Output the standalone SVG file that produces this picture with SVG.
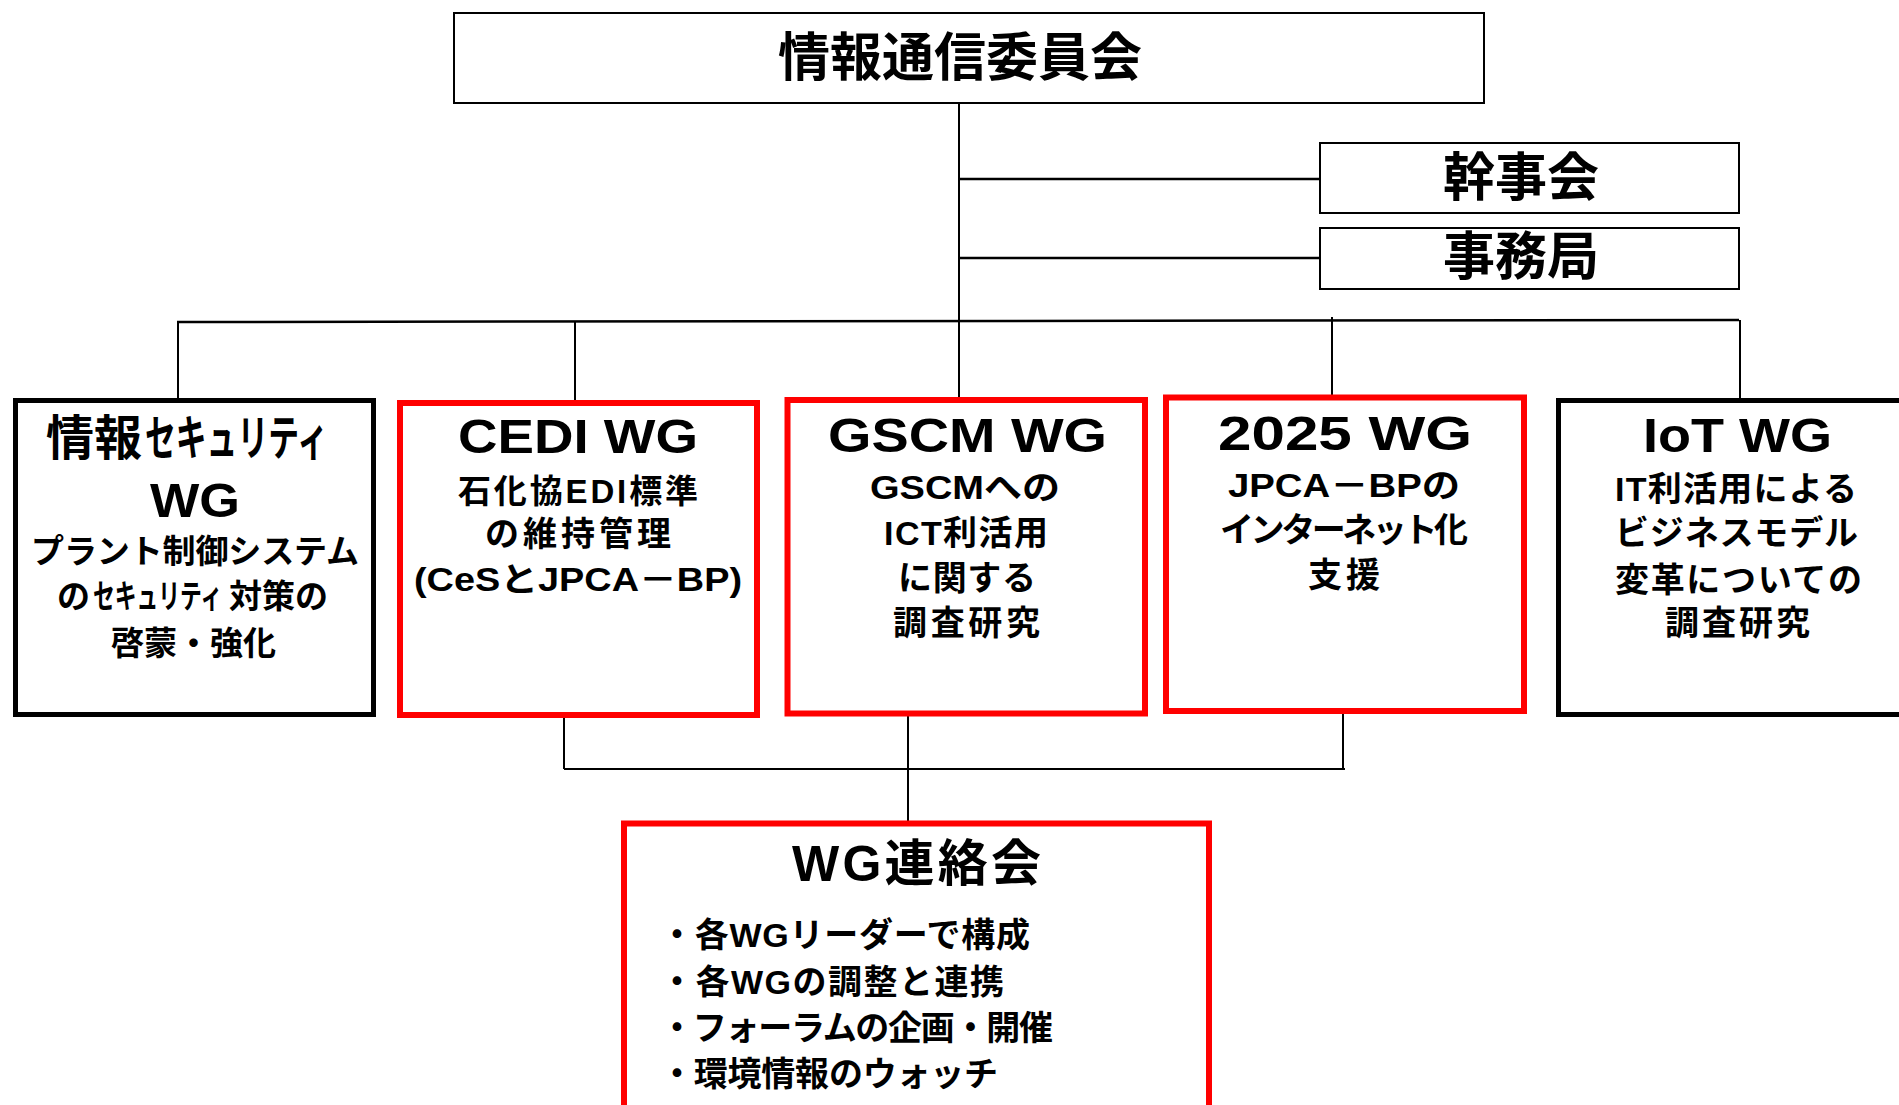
<svg xmlns="http://www.w3.org/2000/svg" width="1899" height="1105" viewBox="0 0 1899 1105">
<style>
.bg{fill:#fff}
.box{fill:#fff;stroke:#000;stroke-width:2}
.wgk{fill:#fff;stroke:#000;stroke-width:5}
.wgr{fill:#fff;stroke:#ff0000;stroke-width:6}
.ln{stroke:#000;stroke-width:2;fill:none}
.t{font-family:"Liberation Sans","Noto Sans CJK JP",sans-serif;font-weight:bold;fill:#000}
.h{font-size:49px}
.s{font-size:34px}
.m{font-size:33px}
</style>
<rect class="bg" x="0" y="0" width="1899" height="1105"/>
<g id="connectors">
<line class="ln" x1="959" y1="103" x2="959" y2="398"/>
<line class="ln" x1="959" y1="179" x2="1320" y2="179" style="stroke-width:2.5"/>
<line class="ln" x1="959" y1="258" x2="1320" y2="258" style="stroke-width:2.5"/>
<line class="ln" x1="177" y1="322" x2="1739" y2="320" style="stroke-width:2.5"/>
<line class="ln" x1="178" y1="322" x2="178" y2="398"/>
<line class="ln" x1="575" y1="321" x2="575" y2="401"/>
<line class="ln" x1="1332" y1="317" x2="1332" y2="395"/>
<line class="ln" x1="1740" y1="320" x2="1740" y2="398"/>
<line class="ln" x1="564" y1="715" x2="564" y2="769"/>
<line class="ln" x1="564" y1="769" x2="1345" y2="769"/>
<line class="ln" x1="1343" y1="711" x2="1343" y2="769"/>
<line class="ln" x1="908" y1="713" x2="908" y2="821"/>
</g>
<g id="committee">
<rect class="box" x="454" y="13" width="1030" height="90"/>
<text class="t" x="960" y="76" font-size="52" text-anchor="middle">情報通信委員会</text>
</g>
<g id="kanjikai">
<rect class="box" x="1320" y="143" width="419" height="70"/>
<text class="t" x="1521" y="196" font-size="52" text-anchor="middle">幹事会</text>
</g>
<g id="jimukyoku">
<rect class="box" x="1320" y="228" width="419" height="61"/>
<text class="t" x="1521" y="275" font-size="52" text-anchor="middle">事務局</text>
</g>
<g id="security-wg">
<rect class="wgk" x="15.5" y="400.5" width="358" height="314"/>
<text class="t" x="46" y="455" font-size="48">情報</text>
<text class="t" transform="translate(145,455) scale(0.642,1)" x="0" y="0" font-size="48">セキュリティ</text>
<text class="t h" x="150" y="517" textLength="90" lengthAdjust="spacingAndGlyphs">WG</text>
<text class="t m" x="31" y="563" textLength="328">プラント制御システム</text>
<text class="t m" x="57" y="608">の</text>
<text class="t m" transform="translate(93,608) scale(0.66,1)" x="0" y="0">セキュリティ</text>
<text class="t m" x="229" y="608" textLength="99">対策の</text>
<text class="t m" x="111" y="655" textLength="165">啓蒙・強化</text>
</g>
<g id="cedi-wg">
<rect class="wgr" x="400" y="403" width="357" height="312"/>
<text class="t h" x="458" y="453" textLength="240" lengthAdjust="spacingAndGlyphs">CEDI WG</text>
<text class="t m" x="458" y="503" textLength="240">石化協EDI標準</text>
<text class="t s" x="485" y="546" textLength="186">の維持管理</text>
<text class="t m" x="414" y="591" textLength="328" lengthAdjust="spacingAndGlyphs">(CeSとJPCA－BP)</text>
</g>
<g id="gscm-wg">
<rect class="wgr" x="787.5" y="400" width="357.5" height="313.5"/>
<text class="t h" x="828" y="452" textLength="279" lengthAdjust="spacingAndGlyphs">GSCM WG</text>
<text class="t m" x="870" y="499" textLength="190" lengthAdjust="spacingAndGlyphs">GSCMへの</text>
<text class="t s" x="884" y="545" textLength="164">ICT利活用</text>
<text class="t s" x="898" y="590" textLength="138">に関する</text>
<text class="t s" x="893" y="635" textLength="147">調査研究</text>
</g>
<g id="wg2025">
<rect class="wgr" x="1166" y="397.5" width="358" height="313.5"/>
<text class="t h" x="1218" y="450" textLength="254" lengthAdjust="spacingAndGlyphs">2025 WG</text>
<text class="t m" x="1228" y="497" textLength="232" lengthAdjust="spacingAndGlyphs">JPCA－BPの</text>
<text class="t s" x="1220" y="542" textLength="248">インターネット化</text>
<text class="t s" x="1308" y="587" textLength="72">支援</text>
</g>
<g id="iot-wg">
<rect class="wgk" x="1558.5" y="400.5" width="358" height="314"/>
<text class="t h" x="1643" y="452" textLength="189" lengthAdjust="spacingAndGlyphs">IoT WG</text>
<text class="t s" x="1615" y="501" textLength="242">IT利活用による</text>
<text class="t s" x="1615" y="545" textLength="243">ビジネスモデル</text>
<text class="t s" x="1615" y="592" textLength="247">変革についての</text>
<text class="t s" x="1665" y="635" textLength="145">調査研究</text>
</g>
<g id="wg-renrakukai">
<rect class="wgr" x="624" y="823.5" width="585" height="300"/>
<text class="t" x="792" y="881" font-size="50" textLength="249">WG連絡会</text>
<text class="t s" x="660" y="947" textLength="370">・各WGリーダーで構成</text>
<text class="t s" x="660" y="994" textLength="344">・各WGの調整と連携</text>
<text class="t s" x="660" y="1040" textLength="393">・フォーラムの企画・開催</text>
<text class="t s" x="660" y="1086" textLength="338">・環境情報のウォッチ</text>
</g>
</svg>
